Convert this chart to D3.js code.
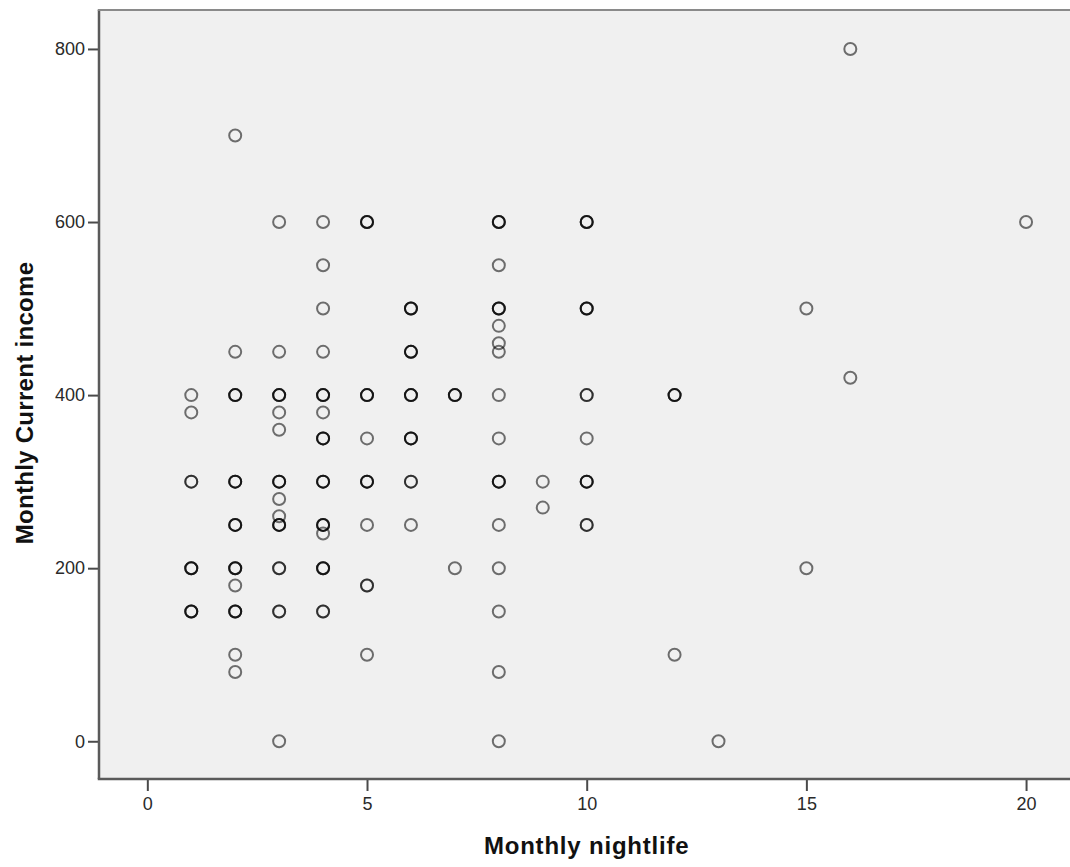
<!DOCTYPE html>
<html>
<head>
<meta charset="utf-8">
<script src="https://cdn.jsdelivr.net/npm/d3@7"></script>
<style>
    body { margin: 0; background: #fff; }
    svg { display: block; }
    .tick text { font-family: "Liberation Sans", Arial, sans-serif; font-size: 18px; fill: #2a2a2a; }
    .tick line { stroke: #4a4a4a; stroke-width: 2; }
    .title { font-family: "Liberation Sans", Arial, sans-serif; font-weight: bold; font-size: 24px; fill: #111; }
</style>
</head>
<body>
<svg width="1070" height="867"></svg>
<script>
// one entry per plotted position; cases = how many respondents share it
var nightlife = [
    1, 1, 1, 1, 1,
    2, 2, 2, 2, 2, 2, 2, 2, 2, 2,
    3, 3, 3, 3, 3, 3, 3, 3, 3, 3, 3, 3,
    4, 4, 4, 4, 4, 4, 4, 4, 4, 4, 4, 4,
    5, 5, 5, 5, 5, 5, 5,
    6, 6, 6, 6, 6, 6,
    7, 7,
    8, 8, 8, 8, 8, 8, 8, 8, 8, 8, 8, 8, 8, 8,
    9, 9,
    10, 10, 10, 10, 10, 10,
    12, 12,
    13,
    15, 15,
    16, 16,
    20
];
var income = [
    400, 380, 300, 200, 150,
    700, 450, 400, 300, 250, 200, 180, 150, 100, 80,
    600, 450, 400, 380, 360, 300, 280, 260, 250, 200, 150, 0,
    600, 550, 500, 450, 400, 380, 350, 300, 250, 240, 200, 150,
    600, 400, 350, 300, 250, 180, 100,
    500, 450, 400, 350, 300, 250,
    400, 200,
    600, 550, 500, 480, 460, 450, 400, 350, 300, 250, 200, 150, 80, 0,
    300, 270,
    600, 500, 400, 350, 300, 250,
    400, 100,
    0,
    500, 200,
    800, 420,
    600
];
var cases = [
    1, 1, 2, 3, 3,
    1, 1, 3, 3, 3, 3, 1, 3, 1, 1,
    1, 1, 3, 1, 1, 3, 1, 1, 3, 2, 2, 1,
    1, 1, 1, 1, 3, 1, 3, 3, 3, 1, 3, 2,
    3, 3, 1, 3, 1, 2, 1,
    3, 3, 3, 3, 2, 1,
    3, 1,
    3, 1, 3, 1, 1, 1, 1, 1, 3, 1, 1, 1, 1, 1,
    1, 1,
    3, 3, 2, 1, 3, 2,
    3, 1,
    1,
    1, 1,
    1, 1,
    1
];
var xTicks = [0, 5, 10, 15, 20];
var yTicks = [0, 200, 400, 600, 800];

var svg = d3.select("svg");
var plotLeft = 99, plotTop = 10, plotBottom = 779, plotRight = 1070;

var x = d3.scaleLinear().domain([-1.1, 21]).range([plotLeft, plotRight]);
var y = d3.scaleLinear().domain([-43.6, 845]).range([plotBottom, plotTop]);

// plot background
svg.append("rect")
    .attr("x", plotLeft).attr("y", plotTop)
    .attr("width", plotRight - plotLeft + 10).attr("height", plotBottom - plotTop)
    .attr("fill", "#f0f0f0");

// expand each position into its respondents
var points = [];
nightlife.forEach(function (d, i) {
    for (var k = 0; k < cases[i]; k++)
        points.push({x: d, y: income[i]});
});

svg.append("g").attr("class", "points")
    .selectAll("circle").data(points).enter().append("circle")
    .attr("cx", function (d) { return x(d.x); })
    .attr("cy", function (d) { return y(d.y); })
    .attr("r", 6)
    .attr("fill", "none")
    .attr("stroke", "#000")
    .attr("stroke-opacity", 0.55)
    .attr("stroke-width", 2);

var xAxis = svg.append("g")
    .attr("transform", "translate(0," + plotBottom + ")")
    .call(d3.axisBottom(x).tickValues(xTicks).tickSize(12).tickPadding(6).tickFormat(d3.format("d")));
xAxis.select(".domain").remove();

var yAxis = svg.append("g")
    .attr("transform", "translate(" + plotLeft + ",0)")
    .call(d3.axisLeft(y).tickValues(yTicks).tickSize(11).tickPadding(3).tickFormat(d3.format("d")));
yAxis.select(".domain").remove();

// frame: left, bottom, top
svg.append("line").attr("x1", plotLeft).attr("x2", plotLeft).attr("y1", plotTop).attr("y2", plotBottom)
    .attr("stroke", "#5a5a5a").attr("stroke-width", 2.5);
svg.append("line").attr("x1", plotLeft - 1.25).attr("x2", plotRight + 5).attr("y1", plotBottom).attr("y2", plotBottom)
    .attr("stroke", "#5a5a5a").attr("stroke-width", 2.5);
svg.append("line").attr("x1", plotLeft - 1.25).attr("x2", plotRight + 5).attr("y1", plotTop).attr("y2", plotTop)
    .attr("stroke", "#8a8a8a").attr("stroke-width", 2);

svg.append("text").attr("class", "title")
    .attr("x", x(10)).attr("y", 854)
    .attr("text-anchor", "middle")
    .attr("letter-spacing", "0.8")
    .text("Monthly nightlife");

svg.append("text").attr("class", "title")
    .attr("transform", "translate(33," + 403 + ") rotate(-90)")
    .attr("text-anchor", "middle")
    .attr("letter-spacing", "0.3")
    .text("Monthly Current income");
</script>
</body>
</html>
